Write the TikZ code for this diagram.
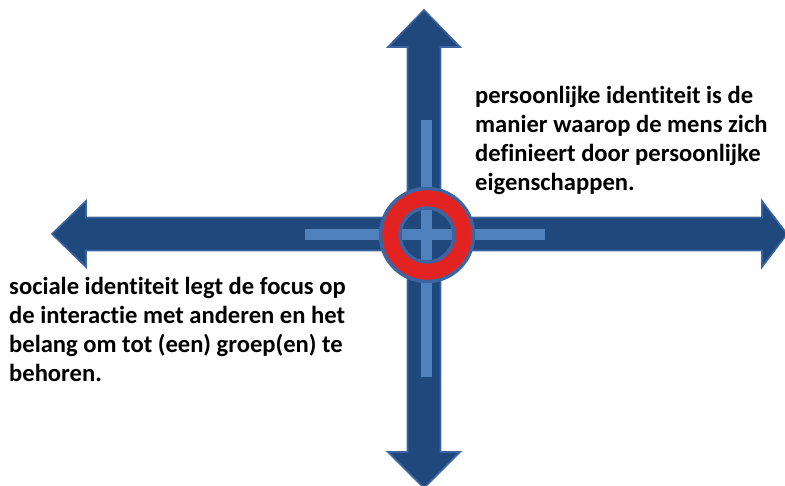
\documentclass[tikz,border=0pt]{standalone}
\usepackage{fontspec}
\setmainfont[Ligatures={NoCommon}]{Carlito}
\definecolor{shaftdark}{HTML}{1F497D}
\definecolor{shaftedge}{HTML}{3C65A0}
\definecolor{stripe}{HTML}{4F81BD}
\definecolor{ringred}{HTML}{E32222}
\begin{document}
\begin{tikzpicture}[x=1pt,y=-1pt,
  arrowshape/.style={fill=shaftdark,draw=shaftedge,line width=1.6pt,line join=miter},
  stripebar/.style={fill=stripe},
  label/.style={font=\bfseries\fontsize{24.6}{29}\selectfont,align=left,inner sep=0pt,anchor=north west}]
\useasboundingbox (0,0) rectangle (785,486);
% horizontal double arrow
\draw[arrowshape] (52,234) -- (86,201) -- (86,217.5) -- (762,217.5) -- (762,201) -- (787,234)
  -- (762,267) -- (762,250.5) -- (86,250.5) -- (86,267) -- cycle;
% vertical double arrow
\draw[arrowshape] (424,10) -- (460,47) -- (440.5,47) -- (440.5,452) -- (460,452) -- (424,488)
  -- (388,452) -- (407.5,452) -- (407.5,47) -- (388,47) -- cycle;
% fill the crossing so borders do not show
\fill[shaftdark] (408.5,218.5) rectangle (439.5,249.5);
% light stripes
\fill[stripebar] (305,229.5) rectangle (545,240.5);
\fill[stripebar] (421,120) rectangle (432,377);
% ring
\coordinate (c) at (427,235);
\fill[shaftdark] (c) circle (27);
\fill[stripebar] (421,209) rectangle (432,261);
\fill[stripebar] (401,229.5) rectangle (453,240.5);
\fill[ringred,draw=shaftedge,line width=3.5pt,even odd rule] (c) circle (46.5) (c) circle (27);
% texts
\node[label] (persoonlijk) at (475,86.5) {persoonlijke identiteit is de\\manier waarop de mens zich\\definieert door persoonlijke\\eigenschappen.};
\node[label] (sociaal) at (9,277.5) {sociale identiteit legt de focus op\\de interactie met anderen en het\\belang om tot (een) groep(en) te\\behoren.};
\end{tikzpicture}
\end{document}
